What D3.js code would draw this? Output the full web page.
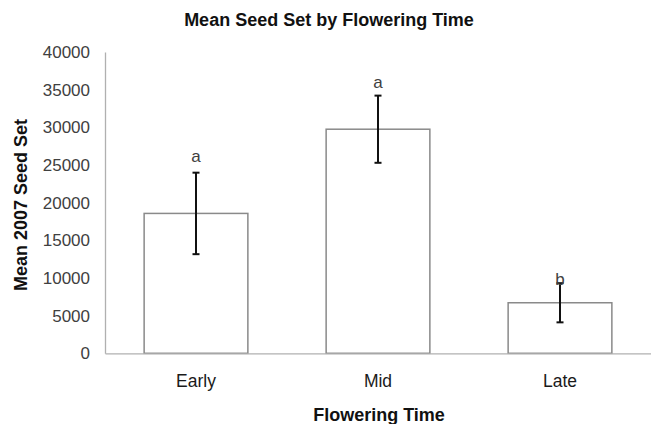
<!DOCTYPE html>
<html><head><meta charset="utf-8">
<script src="https://cdn.jsdelivr.net/npm/d3@7"></script>
<style>body{margin:0;background:#fff}svg{display:block}text{font-family:"Liberation Sans",Arial,sans-serif}</style>
</head><body>
<svg id="c" width="651" height="424"></svg>
<script>
const categories = ["Early", "Mid", "Late"];
const means = [18570, 29750, 6710];
const errors = [5410, 4460, 2600];
const letters = ["a", "a", "b"];
const letterValues = [25370, 35190, 9060];
const yTicks = [0, 5000, 10000, 15000, 20000, 25000, 30000, 35000, 40000];

const svg = d3.select("#c");
const mLeft = 105, mRight = 651, mTop = 52, mBottom = 353.3;
const x = d3.scaleBand().domain(categories).range([mLeft, mRight]).paddingInner(0.43).paddingOuter(0.215);
const y = d3.scaleLinear().domain([0, 40000]).range([mBottom, mTop]);

// y axis
const ya = svg.append("g").attr("transform", `translate(${mLeft},0)`)
  .call(d3.axisLeft(y).tickValues(yTicks).tickSize(0).tickPadding(15).tickFormat(d3.format("d")));
ya.select(".domain").attr("stroke", "#b0b0b0").attr("stroke-width", 1.3);
ya.selectAll("text").attr("font-size", 17).attr("fill", "#404040").attr("font-family", "Liberation Sans, Arial, sans-serif");

// bars
svg.selectAll("rect.bar").data(categories).enter().append("rect")
  .attr("x", d => x(d)).attr("width", x.bandwidth())
  .attr("y", (d, i) => y(means[i])).attr("height", (d, i) => y(0) - y(means[i]))
  .attr("fill", "#fff").attr("stroke", "#8a8a8a").attr("stroke-width", 1.5);

// x axis
const xa = svg.append("g").attr("transform", `translate(0,${mBottom})`)
  .call(d3.axisBottom(x).tickSize(0).tickPadding(21));
xa.select(".domain").attr("stroke", "#b0b0b0").attr("stroke-width", 1.3);
xa.selectAll("text").attr("font-size", 17.5).attr("fill", "#1a1a1a").attr("font-family", "Liberation Sans, Arial, sans-serif");

// error bars
const eb = svg.append("g").attr("stroke", "#111").attr("stroke-width", 2);
categories.forEach((c, i) => {
  const cx = x(c) + x.bandwidth() / 2;
  eb.append("line").attr("x1", cx).attr("x2", cx).attr("y1", y(means[i] + errors[i])).attr("y2", y(means[i] - errors[i]));
  eb.append("line").attr("x1", cx - 3.5).attr("x2", cx + 3.5).attr("y1", y(means[i] + errors[i])).attr("y2", y(means[i] + errors[i]));
  eb.append("line").attr("x1", cx - 3.5).attr("x2", cx + 3.5).attr("y1", y(means[i] - errors[i])).attr("y2", y(means[i] - errors[i]));
});

// letters
svg.selectAll("text.letter").data(categories).enter().append("text")
  .attr("x", d => x(d) + x.bandwidth() / 2).attr("y", (d, i) => y(letterValues[i]))
  .attr("text-anchor", "middle").attr("font-size", 17).attr("fill", "#404040")
  .text((d, i) => letters[i]);

// title
svg.append("text").attr("x", 329).attr("y", 26).attr("text-anchor", "middle")
  .attr("font-size", 18).attr("font-weight", "bold").attr("fill", "#111")
  .text("Mean Seed Set by Flowering Time");

// x label
svg.append("text").attr("x", 379).attr("y", 421).attr("text-anchor", "middle")
  .attr("font-size", 18).attr("font-weight", "bold").attr("fill", "#111")
  .text("Flowering Time");

// y label
svg.append("text").attr("transform", "translate(27,205) rotate(-90)").attr("text-anchor", "middle")
  .attr("font-size", 18).attr("font-weight", "bold").attr("fill", "#111")
  .text("Mean 2007 Seed Set");
</script>
</body></html>
